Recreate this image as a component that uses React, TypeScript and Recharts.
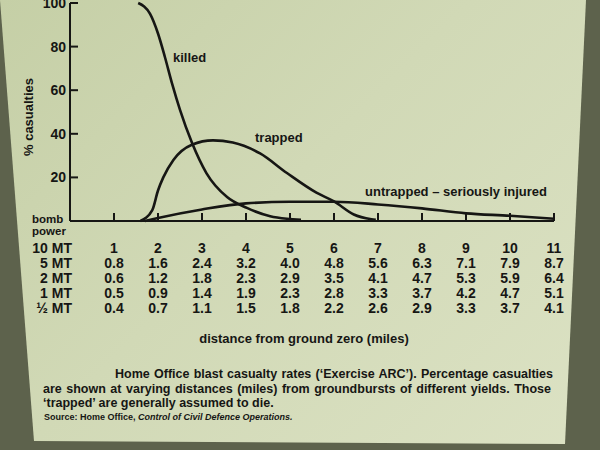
import { LineChart, Line, XAxis, YAxis } from 'recharts';

// distance (miles, 10 MT scale) and % casualties
const killedDist = [1.55, 1.82, 2.0, 2.16, 2.32, 2.5, 2.77, 3.1, 3.57, 4.02, 4.55, 4.93, 5.25];
const killedPct = [100, 95, 86, 75, 63, 51, 36, 22, 11, 6, 2.2, 1, 0.5];

const trappedDist = [1.6, 1.87, 2.0, 2.12, 2.35, 2.77, 3.25, 3.7, 4.32, 4.93, 5.6, 6.0, 6.45, 6.85, 6.95];
const trappedPct = [0, 5, 14, 20, 28, 35, 37, 36, 31, 22, 13, 9, 3, 0.8, 0.5];

const untrappedDist = [1.7, 2.0, 3.0, 4.0, 5.0, 6.0, 7.0, 8.0, 9.0, 10.0, 11.0];
const untrappedPct = [0, 1.4, 5.3, 8.1, 8.8, 8.8, 7.6, 5.8, 3.5, 2.4, 1];

// table under the axis: distances for each bomb power
const tenMT = [1, 2, 3, 4, 5, 6, 7, 8, 9, 10, 11];
const fiveMT = [0.8, 1.6, 2.4, 3.2, 4.0, 4.8, 5.6, 6.3, 7.1, 7.9, 8.7];
const twoMT = [0.6, 1.2, 1.8, 2.3, 2.9, 3.5, 4.1, 4.7, 5.3, 5.9, 6.4];
const oneMT = [0.5, 0.9, 1.4, 1.9, 2.3, 2.8, 3.3, 3.7, 4.2, 4.7, 5.1];
const halfMT = [0.4, 0.7, 1.1, 1.5, 1.8, 2.2, 2.6, 2.9, 3.3, 3.7, 4.1];
const powerLabels = ['10 MT', '5 MT', '2 MT', '1 MT', '½ MT'];

const yTicks = [20, 40, 60, 80, 100];

const toPoints = (d: number[], p: number[]) => d.map((x, i) => ({ d: x, v: p[i] }));
const killed = toPoints(killedDist, killedPct);
const trapped = toPoints(trappedDist, trappedPct);
const untrapped = toPoints(untrappedDist, untrappedPct);

const INK = '#161614';
const FONT = '"Liberation Sans", Arial, sans-serif';

const XTick = (props: any) => {
  const { x, y, payload } = props;
  const i = payload.index ?? tenMT.indexOf(payload.value);
  const rows = [
    String(tenMT[i]),
    fiveMT[i].toFixed(1),
    twoMT[i].toFixed(1),
    oneMT[i].toFixed(1),
    halfMT[i].toFixed(1),
  ];
  return (
    <g>
      <line x1={x} y1={y} x2={x} y2={y - 8} stroke={INK} strokeWidth={2} />
      {rows.map((r, k) => (
        <text key={k} x={x} y={y + 32 + k * 15} textAnchor="middle" fontSize={14}
          fontWeight="bold" fill={INK} fontFamily={FONT}>
          {r}
        </text>
      ))}
    </g>
  );
};

const YTick = (props: any) => {
  const { x, y, payload } = props;
  return (
    <g>
      <line x1={x} y1={y} x2={x + 8} y2={y} stroke={INK} strokeWidth={2} />
      <text x={x - 4} y={y + 5} textAnchor="end" fontSize={14} fontWeight="bold" fill={INK} fontFamily={FONT}>
        {payload.value}
      </text>
    </g>
  );
};

const txt = (extra: any) => ({
  position: 'absolute' as const,
  fontFamily: FONT,
  fontWeight: 'bold' as const,
  color: INK,
  whiteSpace: 'nowrap' as const,
  ...extra,
});

export default function App() {
  return (
    <div style={{ position: 'absolute', left: 0, top: 0, width: 600, height: 450, background: '#5d624c', overflow: 'hidden' }}>
      <div style={{
        position: 'absolute', left: 0, top: 0, width: 600, height: 450,
        clipPath: 'polygon(0px 0px, 586px 0px, 565px 444px, 34px 441px)',
        background: 'linear-gradient(135deg, #c5cfa6 0%, #d1d9b6 45%, #dce2c4 100%)',
      }} />
      <div style={{ position: 'absolute', left: 0, top: 0 }}>
        <LineChart width={600} height={450} margin={{ top: 3, right: 46, bottom: 0, left: 0 }}>
          <XAxis dataKey="d" type="number" domain={[0, 11]} ticks={tenMT} height={229}
            tickSize={0} tickMargin={0} tickLine={false} tick={<XTick />}
            axisLine={{ stroke: INK, strokeWidth: 2 }} interval={0} />
          <YAxis type="number" domain={[0, 100]} ticks={yTicks} width={70}
            tickSize={0} tickMargin={0} tickLine={false} tick={<YTick />}
            axisLine={{ stroke: INK, strokeWidth: 2 }} interval={0} />
          <Line data={killed} dataKey="v" type="monotone" stroke={INK} strokeWidth={2.6} dot={false} isAnimationActive={false} />
          <Line data={trapped} dataKey="v" type="monotone" stroke={INK} strokeWidth={2.6} dot={false} isAnimationActive={false} />
          <Line data={untrapped} dataKey="v" type="monotone" stroke={INK} strokeWidth={2.6} dot={false} isAnimationActive={false} />
        </LineChart>
      </div>

      <div style={txt({ left: 28, top: 117, fontSize: 13, transform: 'translate(-50%, -50%) rotate(-90deg)' })}>% casualties</div>

      <div style={txt({ left: 173, top: 50, fontSize: 13 })}>killed</div>
      <div style={txt({ left: 255, top: 130, fontSize: 13 })}>trapped</div>
      <div style={txt({ left: 365, top: 184, fontSize: 13 })}>untrapped – seriously injured</div>

      <div style={txt({ left: 32, top: 214, fontSize: 11.5, lineHeight: '11px' })}>bomb</div>
      <div style={txt({ left: 32, top: 226, fontSize: 11.5, lineHeight: '11px' })}>power</div>
      {powerLabels.map((p, k) => (
        <div key={p} style={txt({ left: 0, width: 72, textAlign: 'right', top: 240 + k * 15, fontSize: 14, lineHeight: '16px' })}>{p}</div>
      ))}

      <div style={txt({ left: 304, top: 338, fontSize: 13, transform: 'translate(-50%, -50%)' })}>distance from ground zero (miles)</div>

      <div style={txt({ left: 115, width: 438, top: 366, fontSize: 12.5, lineHeight: '16px', textAlign: 'justify', textAlignLast: 'justify' })}>
        Home Office blast casualty rates (‘Exercise ARC’). Percentage casualties
      </div>
      <div style={txt({ left: 43, width: 508, top: 381, fontSize: 12.5, lineHeight: '16px', textAlign: 'justify', textAlignLast: 'justify' })}>
        are shown at varying distances (miles) from groundbursts of different yields. Those
      </div>
      <div style={txt({ left: 43, top: 395, fontSize: 12.5, lineHeight: '16px' })}>
        ‘trapped’ are generally assumed to die.
      </div>
      <div style={txt({ left: 44, top: 411, fontSize: 9, lineHeight: '12px' })}>
        Source: Home Office, <i>Control of Civil Defence Operations.</i>
      </div>
    </div>
  );
}
